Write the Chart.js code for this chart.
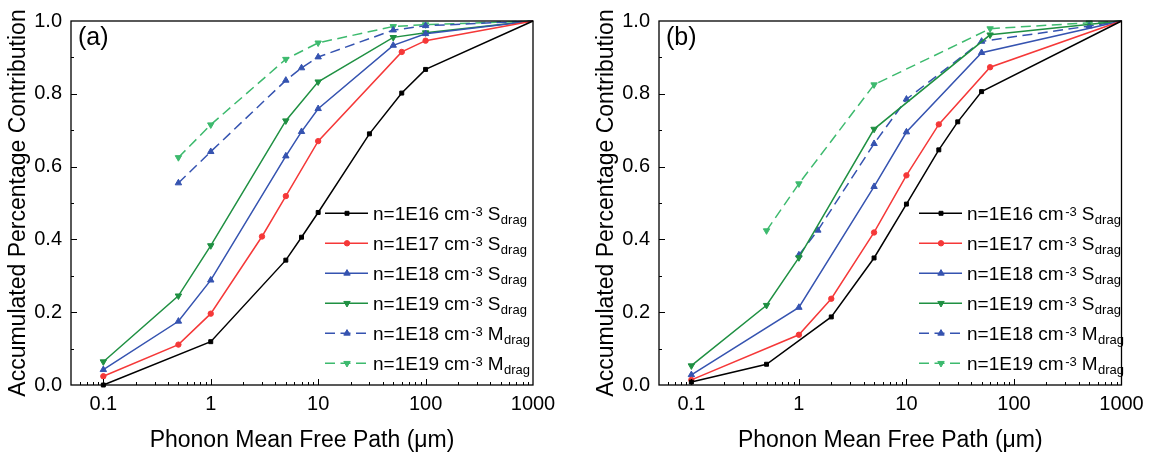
<!DOCTYPE html>
<html><head><meta charset="utf-8">
<script src="https://cdn.jsdelivr.net/npm/chart.js@4.4.1/dist/chart.umd.min.js"></script>
<style>
html,body{margin:0;padding:0;background:#fff;}
#wrap{position:relative;width:1152px;height:457px;overflow:hidden;background:#fff;}
canvas{position:absolute;top:0;}
</style></head><body>
<div id="wrap">
<canvas id="ca" width="576" height="457" style="left:0px"></canvas>
<canvas id="cb" width="576" height="457" style="left:576px"></canvas>
</div>
<script>
// ---------- data: panel (a) ----------
const xA_S16 = [0.1, 1, 5, 7, 10, 30, 60, 100, 1000];
const yA_S16 = [0.0, 0.119, 0.343, 0.406, 0.474, 0.690, 0.802, 0.867, 1.0];
const xA_S17 = [0.1, 0.5, 1, 3, 5, 10, 60, 100, 1000];
const yA_S17 = [0.024, 0.111, 0.196, 0.408, 0.519, 0.670, 0.915, 0.946, 1.0];
const xA_S18 = [0.1, 0.5, 1, 5, 7, 10, 50, 100, 1000];
const yA_S18 = [0.042, 0.175, 0.288, 0.629, 0.696, 0.759, 0.933, 0.965, 1.0];
const xA_S19 = [0.1, 0.5, 1, 5, 10, 50, 100, 1000];
const yA_S19 = [0.064, 0.245, 0.383, 0.726, 0.833, 0.955, 0.968, 1.0];
const xA_M18 = [0.5, 1, 5, 7, 10, 50, 100, 1000];
const yA_M18 = [0.555, 0.641, 0.837, 0.871, 0.901, 0.975, 0.987, 1.0];
const xA_M19 = [0.5, 1, 5, 10, 50, 100, 1000];
const yA_M19 = [0.625, 0.715, 0.895, 0.940, 0.985, 0.990, 1.0];

// ---------- data: panel (b) ----------
const xB_S16 = [0.1, 0.5, 2, 5, 10, 20, 30, 50, 1000];
const yB_S16 = [0.008, 0.057, 0.187, 0.349, 0.497, 0.646, 0.723, 0.806, 1.0];
const xB_S17 = [0.1, 1, 2, 5, 10, 20, 60, 1000];
const yB_S17 = [0.014, 0.138, 0.237, 0.419, 0.576, 0.716, 0.873, 1.0];
const xB_S18 = [0.1, 1, 5, 10, 50, 1000];
const yB_S18 = [0.028, 0.213, 0.545, 0.695, 0.913, 1.0];
const xB_S19 = [0.1, 0.5, 1, 5, 60, 1000];
const yB_S19 = [0.053, 0.219, 0.350, 0.703, 0.962, 1.0];
const xB_M18 = [1, 1.5, 5, 10, 50, 500, 1000];
const yB_M18 = [0.357, 0.425, 0.663, 0.785, 0.944, 0.986, 1.0];
const xB_M19 = [0.5, 1, 5, 60, 500, 1000];
const yB_M19 = [0.424, 0.553, 0.825, 0.979, 0.995, 1.0];

// ---------- labels ----------
const xTickValues = [0.1, 1, 10, 100, 1000];
const xTickLabels = ['0.1', '1', '10', '100', '1000'];
const yTickValues = [0.0, 0.2, 0.4, 0.6, 0.8, 1.0];
const yTickLabels = ['0.0', '0.2', '0.4', '0.6', '0.8', '1.0'];
const xTitle = 'Phonon Mean Free Path (\u03bcm)';
const yTitle = 'Accumulated Percentage Contribution';
const panelLabels = ['(a)', '(b)'];
const legendMain = ['n=1E16 cm', 'n=1E17 cm', 'n=1E18 cm', 'n=1E19 cm', 'n=1E18 cm', 'n=1E19 cm'];
const legendSup = ['-3', '-3', '-3', '-3', '-3', '-3'];
const legendSym = ['S', 'S', 'S', 'S', 'M', 'M'];
const legendSub = ['drag', 'drag', 'drag', 'drag', 'drag', 'drag'];

// ---------- styles ----------
const FONT = "'Liberation Sans', Arial, Helvetica, sans-serif";
const STY = [
  {color: '#000000', shape: 'rect', r: 2.8, rot: 0, dash: []},
  {color: '#f53838', shape: 'circle', r: 2.7, rot: 0, dash: []},
  {color: '#3553b0', shape: 'triangle', r: 3.7, rot: 0, dash: []},
  {color: '#1f9042', shape: 'triangle', r: 3.7, rot: 180, dash: []},
  {color: '#3553b0', shape: 'triangle', r: 3.7, rot: 0, dash: [10, 5.5]},
  {color: '#3dba6e', shape: 'triangle', r: 3.7, rot: 180, dash: [10, 5.5]}
];

function pts(xs, ys) { return xs.map((x, i) => ({x: x, y: ys[i]})); }

function drawMarker(ctx, shape, x, y, r, rot, color) {
  ctx.save();
  ctx.fillStyle = color; ctx.strokeStyle = color; ctx.lineWidth = 1; ctx.setLineDash([]);
  ctx.beginPath();
  if (shape === 'rect') {
    const s = Math.SQRT1_2 * r;
    ctx.rect(x - s, y - s, 2 * s, 2 * s);
  } else if (shape === 'circle') {
    ctx.arc(x, y, r, 0, Math.PI * 2);
  } else {
    let a = rot * Math.PI / 180;
    ctx.moveTo(x + Math.sin(a) * r, y - Math.cos(a) * r);
    a += 2 * Math.PI / 3;
    ctx.lineTo(x + Math.sin(a) * r, y - Math.cos(a) * r);
    a += 2 * Math.PI / 3;
    ctx.lineTo(x + Math.sin(a) * r, y - Math.cos(a) * r);
    ctx.closePath();
  }
  ctx.fill(); ctx.stroke();
  ctx.restore();
}

const decor = {
  id: 'decor',
  afterDatasetsDraw(chart) {
    const o = chart.options.plugins.decor;
    const ctx = chart.ctx, a = chart.chartArea;
    const xs = chart.scales.x, ys = chart.scales.y;
    ctx.save();
    // inner ticks
    ctx.strokeStyle = '#000'; ctx.lineWidth = 1; ctx.setLineDash([]);
    ctx.beginPath();
    for (let e = -2; e <= 3; e++) {
      for (let k = 1; k <= 9; k++) {
        const v = k * Math.pow(10, e);
        if (v < xs.min * 1.0001 || v > xs.max * 0.9999) continue;
        const px = Math.round(xs.getPixelForValue(v)) + 0.5;
        const len = (k === 1) ? 6 : 3;
        ctx.moveTo(px, a.bottom); ctx.lineTo(px, a.bottom - len);
      }
    }
    for (let j = 1; j < 10; j++) {
      const py = Math.round(ys.getPixelForValue(j / 10)) + 0.5;
      const len = (j % 2 === 0) ? 6 : 3;
      ctx.moveTo(a.left, py); ctx.lineTo(a.left + len, py);
    }
    ctx.stroke();
    // frame
    ctx.lineWidth = 1.3;
    ctx.strokeRect(a.left, a.top, a.right - a.left, a.bottom - a.top);
    // panel label
    ctx.fillStyle = '#000';
    ctx.font = '25px ' + FONT;
    ctx.textBaseline = 'alphabetic'; ctx.textAlign = 'left';
    ctx.fillText(o.label, a.left + 7, a.top + 24);
    // legend
    for (let i = 0; i < legendMain.length; i++) {
      const st = STY[i];
      const y = o.legY + 30 * i;
      const lx = o.legX;
      ctx.save();
      ctx.strokeStyle = st.color; ctx.lineWidth = 1.5; ctx.setLineDash(st.dash);
      ctx.beginPath(); ctx.moveTo(lx, y); ctx.lineTo(lx + 43, y); ctx.stroke();
      ctx.restore();
      drawMarker(ctx, st.shape, lx + 22, y, st.r, st.rot, st.color);
      let tx = lx + 48;
      ctx.fillStyle = '#000';
      ctx.font = '19px ' + FONT;
      ctx.fillText(legendMain[i], tx, y + 6.7);
      tx += ctx.measureText(legendMain[i]).width + 1.5;
      ctx.font = '13px ' + FONT;
      ctx.fillText(legendSup[i], tx, y + 3);
      tx += ctx.measureText(legendSup[i]).width + 5;
      ctx.font = '19px ' + FONT;
      ctx.fillText(legendSym[i], tx, y + 6.7);
      tx += ctx.measureText(legendSym[i]).width + 0.5;
      ctx.font = '13px ' + FONT;
      ctx.fillText(legendSub[i], tx, y + 10.7);
    }
    ctx.restore();
  }
};

function makeChart(id, series, p) {
  const datasets = series.map((s, i) => ({
    label: legendMain[i] + legendSup[i] + ' ' + legendSym[i] + legendSub[i],
    data: s,
    borderColor: STY[i].color,
    backgroundColor: STY[i].color,
    borderWidth: 1.5,
    borderDash: STY[i].dash,
    pointStyle: STY[i].shape,
    pointRotation: STY[i].rot,
    pointRadius: (c) => (c.raw && c.raw.x >= 1000 ? 0 : STY[i].r),
    pointBorderWidth: 1,
    pointHoverRadius: 0,
    tension: 0,
    fill: false,
    clip: false
  }));
  return new Chart(document.getElementById(id), {
    type: 'line',
    data: {datasets: datasets},
    options: {
      responsive: false, animation: false, devicePixelRatio: 1,
      layout: {padding: {left: 0, top: 12.7, right: p.padRight, bottom: 0}},
      plugins: {legend: {display: false}, tooltip: {enabled: false}, decor: {label: p.label, legX: p.legX, legY: 213.3}},
      scales: {
        x: {
          type: 'logarithmic', min: 0.05, max: 1000,
          afterBuildTicks: (s) => { s.ticks = xTickValues.map(v => ({value: v, major: true})); },
          afterFit: (s) => { s.height = 72; },
          ticks: {
            autoSkip: false, maxRotation: 0, minRotation: 0, padding: 7, color: '#000',
            font: {family: FONT, size: 20},
            callback: (v, idx) => xTickLabels[idx]
          },
          grid: {display: false, drawTicks: false, tickLength: 0},
          border: {display: false},
          title: {display: true, text: xTitle, color: '#000', font: {family: FONT, size: 23}, padding: {top: 0, bottom: 2.5}}
        },
        y: {
          type: 'linear', min: 0, max: 1,
          afterBuildTicks: (s) => { s.ticks = yTickValues.map(v => ({value: v})); },
          afterFit: (s) => { s.width = p.left; },
          ticks: {
            autoSkip: false, padding: 9, color: '#000',
            font: {family: FONT, size: 20},
            callback: (v, idx) => yTickLabels[idx]
          },
          grid: {display: false, drawTicks: false, tickLength: 0},
          border: {display: false},
          title: {display: true, text: yTitle, color: '#000', font: {family: FONT, size: 23}, padding: {top: p.titlePad, bottom: 0}}
        }
      }
    },
    plugins: [decor]
  });
}

makeChart('ca', [pts(xA_S16, yA_S16), pts(xA_S17, yA_S17), pts(xA_S18, yA_S18), pts(xA_S19, yA_S19), pts(xA_M18, yA_M18), pts(xA_M19, yA_M19)],
  {label: panelLabels[0], left: 71, padRight: 43, legX: 325, titlePad: 5.2});
makeChart('cb', [pts(xB_S16, yB_S16), pts(xB_S17, yB_S17), pts(xB_S18, yB_S18), pts(xB_S19, yB_S19), pts(xB_M18, yB_M18), pts(xB_M19, yB_M19)],
  {label: panelLabels[1], left: 83, padRight: 30.5, legX: 343, titlePad: 17.2});
</script>
</body></html>
